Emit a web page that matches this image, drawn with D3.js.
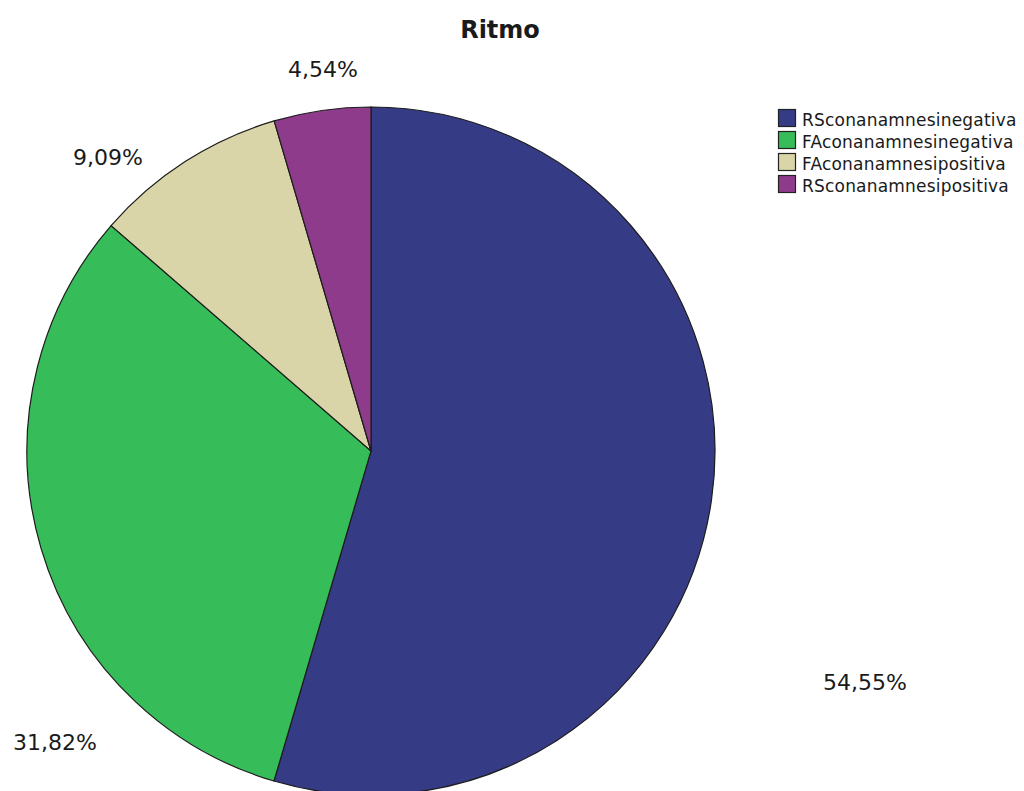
<!DOCTYPE html>
<html>
<head>
<meta charset="utf-8">
<script src="https://cdn.jsdelivr.net/npm/d3@7"></script>
<style>
  body { margin: 0; background: #fff; }
  text { font-family: "DejaVu Sans", sans-serif; fill: #1a1a1a; }
</style>
</head>
<body>
<div id="chart"></div>
<script>
// data
const categories = ["RSconanamnesinegativa", "FAconanamnesinegativa", "FAconanamnesipositiva", "RSconanamnesipositiva"];
const percents = [54.55, 31.82, 9.09, 4.54];
const colors = ["#363b85", "#36bd59", "#dad5a9", "#8e3b8c"];
const pctLabels = ["54,55%", "31,82%", "9,09%", "4,54%"];

// label anchor spots (centre x, baseline y) as drawn by the original tool
const labelSpots = [[865, 690], [55, 750], [108, 165], [323, 77]];

function chart() {
    const width = 1024;
    const height = 791;
    const cx = 371, cy = 451, radius = 344;

    const svg = d3.create("svg")
        .attr("width", width)
        .attr("height", height);

    const rows = categories.map((c, i) => ({name: c, value: percents[i], color: colors[i], label: pctLabels[i]}));

    // start at 12 o'clock, go clockwise, keep the data order
    const pie = d3.pie().sort(null).value(d => d.value);
    const arc = d3.arc().innerRadius(0).outerRadius(radius);

    svg.append("g")
        .attr("transform", `translate(${cx},${cy})`)
        .selectAll("path")
        .data(pie(rows))
        .join("path")
        .attr("d", arc)
        .attr("fill", d => d.data.color)
        .attr("stroke", "#1c1c1c")
        .attr("stroke-width", 1.2);

    // percentage labels
    svg.append("g")
        .selectAll("text")
        .data(rows)
        .join("text")
        .attr("x", (d, i) => labelSpots[i][0])
        .attr("y", (d, i) => labelSpots[i][1])
        .attr("text-anchor", "middle")
        .style("font-size", "22px")
        .text(d => d.label);

    // title
    svg.append("text")
        .attr("x", 500)
        .attr("y", 38)
        .attr("text-anchor", "middle")
        .style("font-size", "24px")
        .style("font-weight", "bold")
        .text("Ritmo");

    // legend
    const legend = svg.append("g")
        .attr("transform", "translate(778,109)")
        .selectAll("g")
        .data(rows)
        .join("g")
        .attr("transform", (d, i) => `translate(0,${i * 22})`);

    legend.append("rect")
        .attr("x", 0.5)
        .attr("y", 0.5)
        .attr("width", 17)
        .attr("height", 17)
        .attr("fill", d => d.color)
        .attr("stroke", "#222")
        .attr("stroke-width", 1.2);

    legend.append("text")
        .attr("x", 24)
        .attr("y", 17)
        .style("font-size", "17px")
        .style("letter-spacing", "0.2px")
        .text(d => d.name);

    return svg.node();
}

document.getElementById("chart").appendChild(chart());
</script>
</body>
</html>
